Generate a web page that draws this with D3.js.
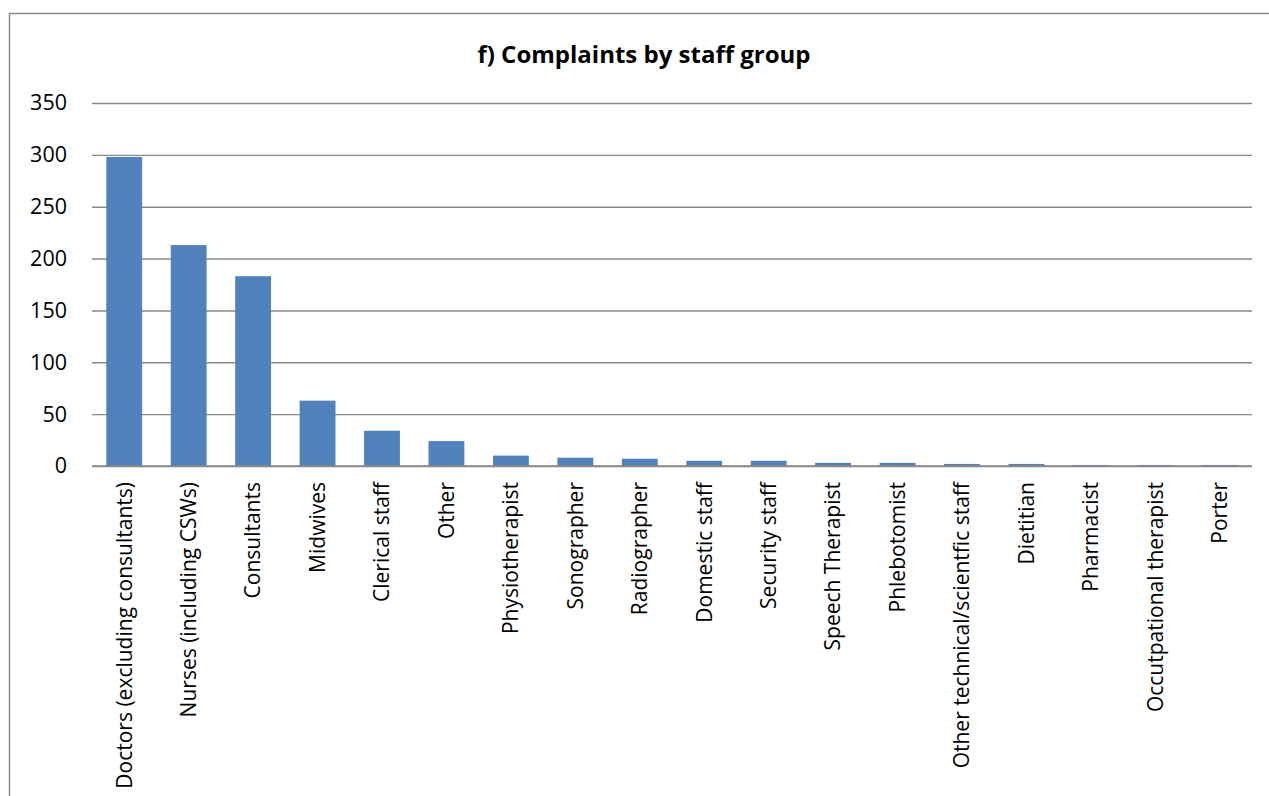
<!DOCTYPE html>
<html><head><meta charset="utf-8">
<script src="https://cdn.jsdelivr.net/npm/d3@7"></script>
<style>body{margin:0;background:#fff;} svg{display:block;}</style>
</head><body>
<svg id="c" width="1269" height="796"></svg>
<script>
const title = "f) Complaints by staff group";
const categories = ["Doctors (excluding consultants)","Nurses (including CSWs)","Consultants","Midwives","Clerical staff","Other","Physiotherapist","Sonographer","Radiographer","Domestic staff","Security staff","Speech Therapist","Phlebotomist","Other technical/scientfic staff","Dietitian","Pharmacist","Occutpational therapist","Porter"];
const values = [298,213,183,63,34,24,10,8,7,5,5,3,3,2,2,1,1,1];
const yTicks = [0,50,100,150,200,250,300,350];

const svg = d3.select("#c");
const font = "'Open Sans', sans-serif";
const m = {left:92, right:1252, top:103, bottom:466};

svg.append("rect").attr("x",9.5).attr("y",13.5).attr("width",1269).attr("height",800)
  .attr("fill","#fff").attr("stroke","#8a8a8a").attr("stroke-width",1.5);

const x = d3.scaleBand().domain(categories).range([m.left,m.right]).paddingInner(0.444).paddingOuter(0.222);
const y = d3.scaleLinear().domain([0,350]).range([m.bottom,m.top]);

const yAxis = svg.append("g").attr("transform",`translate(${m.left},0)`)
  .call(d3.axisLeft(y).tickValues(yTicks).tickSize(-(m.right-m.left)).tickPadding(25).tickFormat(d3.format("d")));
yAxis.select(".domain").remove();
yAxis.selectAll(".tick line").attr("stroke","#898989").attr("stroke-width",1.4);
yAxis.selectAll(".tick text").attr("font-family",font).attr("font-size",21.5).attr("fill","#000");

svg.append("g").selectAll("rect").data(values).join("rect")
  .attr("x",(d,i)=>x(categories[i]))
  .attr("width",x.bandwidth())
  .attr("y",d=>y(d))
  .attr("height",d=>y(0)-y(d))
  .attr("fill","#4f81bd");

svg.append("line").attr("x1",m.left).attr("x2",m.right).attr("y1",y(0)).attr("y2",y(0))
  .attr("stroke","#898989").attr("stroke-width",1.4);

const xAxis = svg.append("g").attr("transform",`translate(0,${m.bottom})`)
  .call(d3.axisBottom(x).tickSize(0).tickPadding(0));
xAxis.select(".domain").remove();
xAxis.selectAll(".tick text")
  .attr("font-family",font).attr("font-size",21).attr("fill","#000")
  .attr("transform","rotate(-90)")
  .attr("text-anchor","end").attr("dy","0.35em").attr("x",-16).attr("y",0);

svg.append("text").attr("x",644).attr("y",63).attr("text-anchor","middle")
  .attr("font-family",font).attr("font-weight","bold").attr("font-size",24).text(title);
</script>
</body></html>
